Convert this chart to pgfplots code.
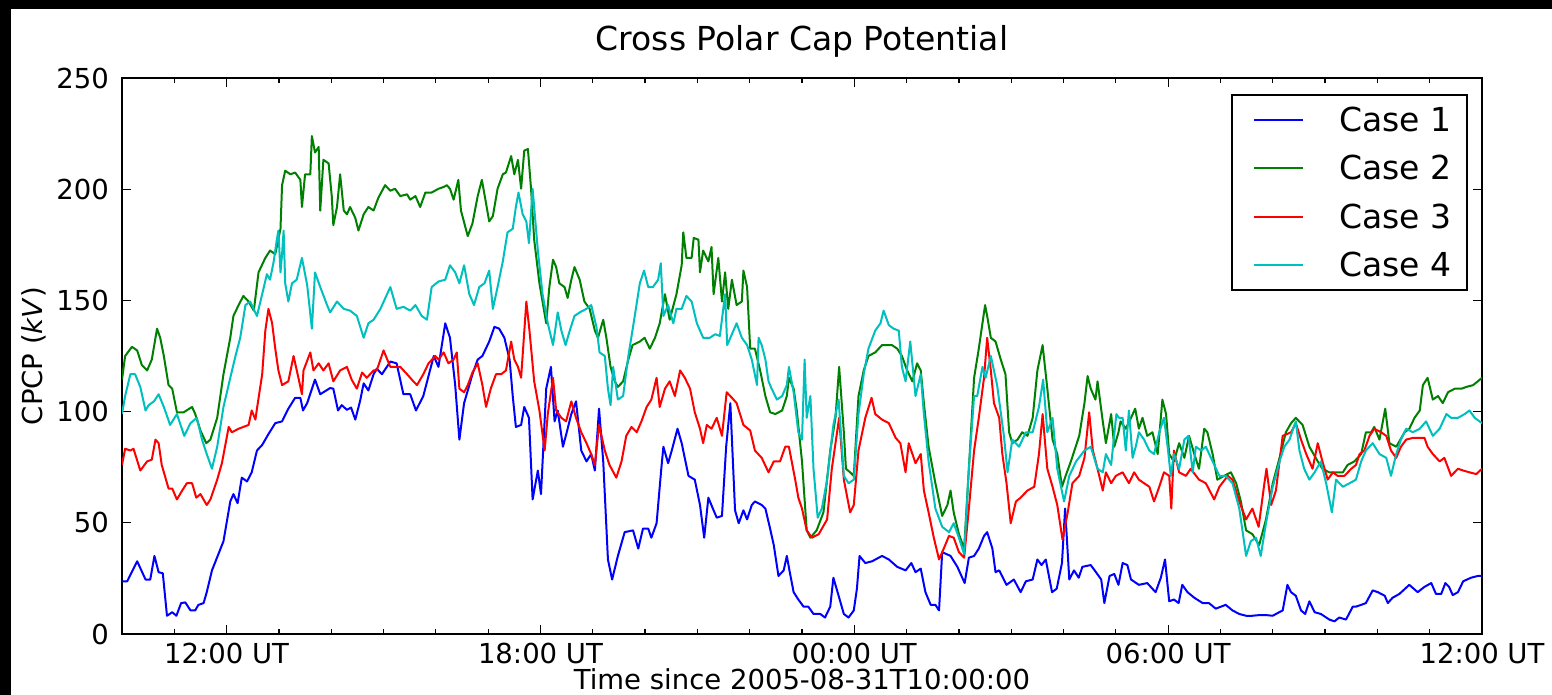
\documentclass[border=0pt]{standalone}
\usepackage{fontspec}
\setmainfont{DejaVu Sans}
\usepackage{pgfplots}
\pgfplotsset{compat=1.18}
\definecolor{mplb}{rgb}{0,0,1}
\definecolor{mplg}{rgb}{0,0.5,0}
\definecolor{mplr}{rgb}{1,0,0}
\definecolor{mplc}{rgb}{0,0.75,0.75}
\begin{document}
\begin{tikzpicture}
\fill[black] (0pt,0pt) rectangle (1552pt,695pt);
\fill[white] (11pt,0pt) rectangle (1552pt,686pt);
\begin{axis}[
  at={(122pt,61pt)}, anchor=south west,
  scale only axis, width=1360pt, height=556pt,
  xmin=10, xmax=36, ymin=0, ymax=250,
  xtick={12,18,24,30,36},
  xticklabels={12:00 UT,18:00 UT,00:00 UT,06:00 UT,12:00 UT},
  minor xtick={10,11,...,36},
  ytick={0,50,100,150,200,250},
  /pgf/number format/assume math mode=true,
  tick align=inside,
  major tick length=9pt, minor tick length=4.6pt,
  every tick/.style={black, line width=1.2pt},
  axis line style={black, line width=2pt},
  tick label style={font=\fontsize{27.5}{33}\selectfont},
  xticklabel style={inner sep=0pt, yshift=-9pt},
  yticklabel style={inner sep=0pt, xshift=-13pt},
  title={Cross Polar Cap Potential},
  title style={at={(axis description cs:0.5,1.0378)}, anchor=base, inner sep=0pt, font=\fontsize{33}{40}\selectfont},
  xlabel={Time since 2005-08-31T10:00:00},
  xlabel style={at={(axis description cs:0.5,-0.1007)}, anchor=base, inner sep=0pt, font=\fontsize{27.5}{33}\selectfont},
  ylabel={CPCP (\textit{kV})},
  ylabel style={at={(axis description cs:-0.0581,0.5)}, anchor=base, inner sep=0pt, rotate=0, font=\fontsize{27.5}{33}\selectfont},
  legend style={at={(0.9894,0.9712)}, anchor=north east, draw=black, line width=2pt, fill=white,
    inner xsep=15pt, inner ysep=12pt, row sep=22.3pt, font=\fontsize{33}{40}\selectfont,
    nodes={inner sep=0pt}, /tikz/every odd column/.append style={column sep=35pt}},
  legend cell align=left,
  legend image code/.code={\path[draw=none] (0pt,0pt) -- (56pt,0pt); \draw[#1] (7pt,0pt)--(56pt,0pt);},
  every axis plot/.append style={line width=2pt, line join=round},
]
\addplot[mplb] coordinates {
(10.00,23.7)(10.10,23.7)(10.29,32.7)(10.45,24.5)(10.54,24.5)(10.62,35.1)(10.70,27.8)(10.78,27.3)(10.86,8.2)(10.96,9.8)(11.04,8.2)(11.13,13.9)(11.21,14.2)(11.31,10.6)(11.40,10.6)(11.46,13.1)(11.56,13.9)(11.62,18.8)(11.72,28.6)(11.94,41.7)(12.07,59.6)(12.13,62.9)(12.21,58.8)(12.29,70.3)(12.39,68.6)(12.48,72.7)(12.58,82.5)(12.68,85.0)(12.80,89.9)(12.93,94.8)(13.06,95.6)(13.18,101.3)(13.31,106.2)(13.41,106.2)(13.46,100.5)(13.54,103.8)(13.69,114.4)(13.79,107.8)(13.98,110.6)(14.04,110.3)(14.13,100.5)(14.20,102.9)(14.30,100.8)(14.38,101.8)(14.46,96.4)(14.55,104.6)(14.62,112.7)(14.71,109.5)(14.81,116.8)(14.87,119.3)(14.97,116.8)(15.13,122.5)(15.25,121.7)(15.38,107.8)(15.51,107.8)(15.62,100.5)(15.76,107.0)(15.96,125.0)(16.05,120.1)(16.18,139.7)(16.27,133.2)(16.37,111.9)(16.45,87.4)
(16.54,103.8)(16.64,111.9)(16.70,116.8)(16.80,123.4)(16.89,125.0)(17.02,131.5)(17.12,138.1)(17.21,137.3)(17.31,133.2)(17.41,123.4)(17.47,107.0)(17.53,93.1)(17.63,94.0)(17.69,102.1)(17.78,97.2)(17.85,60.5)(17.95,73.5)(18.01,62.9)(18.11,110.3)(18.20,120.1)(18.27,95.6)(18.33,100.5)(18.43,84.2)(18.52,92.3)(18.59,98.9)(18.68,104.6)(18.78,82.5)(18.88,77.6)(18.97,80.9)(19.04,73.5)(19.12,101.3)(19.20,77.6)(19.29,33.5)(19.37,24.5)(19.48,35.1)(19.61,45.8)(19.77,46.6)(19.87,38.4)(19.96,47.4)(20.06,47.4)(20.12,43.3)(20.22,49.8)(20.31,74.3)(20.35,84.2)(20.44,76.8)(20.51,82.5)(20.62,92.3)(20.70,85.8)(20.83,71.1)(20.95,69.4)(21.05,58.0)(21.13,43.3)(21.21,61.3)(21.31,55.6)(21.37,52.3)(21.47,53.1)(21.55,84.2)(21.63,103.8)(21.72,55.6)(21.79,49.8)(21.88,55.6)(21.95,51.5)(22.04,58.0)(22.10,59.6)(22.23,58.0)(22.30,56.4)(22.39,47.4)(22.46,40.0)(22.55,26.1)(22.65,28.6)(22.71,35.1)(22.76,28.6)
(22.84,18.8)(22.93,15.5)(23.03,12.3)(23.12,12.3)(23.22,9.0)(23.35,9.0)(23.44,7.4)(23.54,12.3)(23.60,25.3)(23.70,17.2)(23.80,9.0)(23.89,7.4)(23.99,10.6)(24.05,20.4)(24.10,35.1)(24.21,31.9)(24.34,32.7)(24.53,35.1)(24.66,33.5)(24.82,30.2)(24.98,28.6)(25.09,31.9)(25.17,27.8)(25.27,29.4)(25.36,18.8)(25.46,13.1)(25.55,13.1)(25.62,10.6)(25.68,36.8)(25.84,35.1)(25.97,30.2)(26.11,22.9)(26.19,34.3)(26.29,35.1)(26.38,38.4)(26.48,44.1)(26.54,45.8)(26.64,38.4)(26.70,27.8)(26.77,28.6)(26.91,22.1)(27.05,24.5)(27.18,18.8)(27.28,23.7)(27.41,24.5)(27.50,33.5)(27.58,31.0)(27.66,33.5)(27.78,18.8)(27.87,20.4)(27.97,31.9)(28.03,56.4)(28.11,24.5)(28.20,28.6)(28.29,25.3)(28.36,30.2)(28.52,31.0)(28.62,27.8)(28.72,24.5)(28.78,13.9)(28.88,26.1)(28.97,27.0)(29.05,22.1)
(29.13,31.9)(29.22,31.0)(29.29,24.5)(29.44,22.1)(29.60,22.9)(29.76,18.8)(29.86,25.3)(29.94,33.5)(30.02,14.7)(30.11,15.5)(30.20,13.9)(30.27,22.1)(30.37,18.8)(30.50,16.3)(30.66,13.9)(30.78,13.9)(30.91,11.4)(31.01,12.3)(31.10,13.1)(31.23,10.6)(31.36,9.0)(31.49,8.2)(31.61,8.2)(31.74,8.5)(31.87,8.5)(32.00,8.2)(32.06,9.0)(32.19,10.6)(32.28,22.1)(32.35,18.8)(32.44,17.2)(32.54,10.6)(32.62,9.0)(32.70,14.7)(32.80,9.8)(32.92,9.0)(33.08,6.5)(33.18,5.7)(33.27,7.4)(33.40,6.5)(33.53,12.3)(33.59,12.3)(33.69,13.1)(33.78,13.9)(33.91,19.6)(34.01,18.8)(34.14,17.2)(34.20,13.9)(34.29,16.3)(34.42,18.0)(34.61,22.1)(34.77,18.8)(34.90,21.2)(35.03,22.9)(35.12,18.0)(35.22,18.0)(35.30,22.9)(35.37,21.2)(35.44,17.5)(35.54,18.8)(35.64,23.7)(35.79,25.3)(35.92,26.1)(36.00,26.1)
};
\addlegendentry{Case 1}
\addplot[mplg] coordinates {
(10.00,114.4)(10.06,125.0)(10.19,129.1)(10.29,127.5)(10.38,120.9)(10.48,118.5)(10.57,123.4)(10.67,137.3)(10.73,133.2)(10.80,125.0)(10.89,111.9)(10.96,110.3)(11.05,99.7)(11.18,99.7)(11.34,102.1)(11.40,98.9)(11.50,91.5)(11.61,85.8)(11.69,87.4)(11.82,97.2)(11.94,116.8)(12.07,133.2)(12.13,143.0)(12.23,147.9)(12.32,152.0)(12.42,149.5)(12.52,145.4)(12.61,162.6)(12.74,169.1)(12.83,172.4)(12.93,170.8)(13.03,182.2)(13.06,201.8)(13.12,208.3)(13.22,206.7)(13.31,207.5)(13.41,204.2)(13.44,192.0)(13.50,206.7)(13.60,206.7)(13.63,223.9)(13.69,216.5)(13.76,219.0)(13.79,190.4)(13.85,213.2)(13.95,211.6)(14.01,196.9)(14.04,183.8)(14.11,192.0)(14.17,206.7)(14.24,190.4)(14.30,188.7)(14.36,192.0)(14.46,187.1)(14.52,181.4)(14.62,188.7)(14.71,192.0)(14.81,190.4)(14.90,196.1)(15.03,201.8)(15.13,199.3)(15.22,200.2)(15.32,196.9)(15.45,197.7)(15.51,195.3)(15.61,196.9)(15.70,192.0)(15.80,198.5)(15.92,198.5)(16.05,200.2)(16.15,201.0)(16.21,201.8)(16.27,200.2)(16.34,195.3)(16.43,204.2)
(16.48,190.4)(16.61,178.9)(16.70,184.6)(16.80,196.9)(16.88,204.2)(16.96,193.6)(17.02,185.5)(17.09,187.9)(17.18,200.2)(17.28,206.7)(17.34,207.5)(17.44,214.9)(17.50,206.7)(17.57,213.2)(17.63,200.2)(17.69,217.3)(17.76,218.1)(17.82,200.2)(17.88,177.3)(17.98,157.7)(18.11,139.7)(18.17,156.0)(18.24,168.3)(18.30,165.0)(18.36,157.7)(18.46,156.0)(18.52,151.1)(18.59,159.3)(18.65,165.0)(18.75,159.3)(18.84,149.5)(18.94,146.2)(19.04,136.4)(19.10,133.2)(19.20,141.3)(19.26,133.2)(19.34,120.1)(19.42,113.6)(19.48,111.1)(19.58,113.6)(19.68,123.4)(19.76,129.9)(19.90,131.5)(19.99,133.2)(20.09,128.3)(20.19,133.2)(20.28,139.7)(20.38,152.8)(20.47,141.3)(20.60,152.8)(20.70,165.8)(20.73,180.6)(20.79,169.1)(20.89,169.1)(20.93,178.1)(21.02,177.3)(21.05,162.6)(21.11,172.4)(21.21,167.5)(21.27,174.0)(21.31,152.8)(21.40,169.1)(21.47,149.5)(21.53,162.6)(21.59,146.2)(21.66,159.3)(21.75,147.9)(21.85,149.5)(21.88,163.4)(21.95,156.0)(22.01,128.3)(22.10,128.3)(22.20,118.5)(22.30,107.0)(22.39,99.7)(22.49,98.9)(22.62,100.5)(22.71,107.0)
(22.75,115.2)(22.84,110.3)(22.90,100.5)(23.00,77.6)(23.09,46.6)(23.16,43.3)(23.28,46.6)(23.41,54.7)(23.54,82.5)(23.64,97.2)(23.71,120.1)(23.80,90.7)(23.84,74.3)(23.92,72.7)(23.99,71.1)(24.08,107.0)(24.18,118.5)(24.27,125.0)(24.40,126.6)(24.53,129.9)(24.63,129.9)(24.72,129.9)(24.82,128.3)(24.91,125.0)(25.01,118.5)(25.11,113.6)(25.20,121.7)(25.27,118.5)(25.33,103.8)(25.42,84.2)(25.55,67.8)(25.68,53.1)(25.78,58.0)(25.84,64.5)(25.90,54.7)(26.00,44.9)(26.10,38.4)(26.19,74.3)(26.29,115.2)(26.38,128.3)(26.50,147.9)(26.54,143.0)(26.61,133.2)(26.70,131.5)(26.80,123.4)(26.89,116.8)(26.96,90.7)(27.02,85.8)(27.12,87.4)(27.21,90.7)(27.31,89.1)(27.41,97.2)(27.50,118.5)(27.60,129.9)(27.69,110.3)(27.79,87.4)(27.88,80.9)(27.97,66.2)(28.04,71.1)(28.14,77.6)(28.30,89.1)(28.40,103.8)(28.46,116.0)(28.52,110.3)(28.61,105.4)(28.65,113.6)(28.75,95.6)(28.81,85.8)(28.91,98.9)(28.97,84.2)(29.05,90.7)
(29.09,95.6)(29.19,92.3)(29.29,97.2)(29.37,101.3)(29.44,92.3)(29.51,97.2)(29.60,89.1)(29.70,90.7)(29.80,80.9)(29.89,105.4)(29.96,98.9)(30.02,80.9)(30.11,77.6)(30.21,85.8)(30.31,79.2)(30.40,89.1)(30.50,80.9)(30.59,74.3)(30.69,92.3)(30.75,90.7)(30.85,80.9)(30.94,69.4)(31.07,71.1)(31.20,72.7)(31.30,67.8)(31.39,59.6)(31.49,46.6)(31.61,44.9)(31.74,40.0)(31.87,51.5)(32.00,67.8)(32.13,79.2)(32.25,90.7)(32.35,94.8)(32.44,97.2)(32.57,94.0)(32.70,84.2)(32.86,77.6)(32.95,74.3)(33.08,72.7)(33.21,72.7)(33.34,72.7)(33.43,76.0)(33.56,77.6)(33.69,80.9)(33.78,90.7)(33.88,90.7)(33.94,93.1)(34.04,87.4)(34.15,101.3)(34.23,85.8)(34.36,84.2)(34.52,90.7)(34.61,92.3)(34.71,97.2)(34.81,100.5)(34.87,111.9)(34.96,115.2)(35.06,105.4)(35.16,107.0)(35.25,103.8)(35.35,108.7)(35.48,110.3)(35.61,110.3)(35.70,111.1)(35.83,111.9)(35.92,113.6)(36.00,115.2)
};
\addlegendentry{Case 2}
\addplot[mplr] coordinates {
(10.00,76.0)(10.06,83.3)(10.16,82.5)(10.22,83.3)(10.35,73.5)(10.48,77.6)(10.57,78.4)(10.64,87.4)(10.70,85.8)(10.76,76.0)(10.89,65.4)(10.96,65.4)(11.05,60.5)(11.15,64.5)(11.24,67.8)(11.34,67.8)(11.42,61.3)(11.50,62.9)(11.62,58.0)(11.69,60.5)(11.82,69.4)(11.91,76.8)(12.04,93.1)(12.10,90.7)(12.23,92.3)(12.32,93.1)(12.42,94.0)(12.48,100.5)(12.55,96.4)(12.58,101.3)(12.68,116.8)(12.74,136.4)(12.80,146.2)(12.87,139.7)(12.93,128.3)(12.99,118.5)(13.06,111.9)(13.18,113.6)(13.28,125.0)(13.38,114.4)(13.44,107.8)(13.47,118.5)(13.60,126.6)(13.66,118.5)(13.76,121.7)(13.85,118.5)(13.95,121.7)(14.04,113.6)(14.17,118.5)(14.30,120.1)(14.39,114.4)(14.49,110.3)(14.59,117.6)(14.68,115.2)(14.81,118.5)(14.87,118.5)(15.00,127.5)(15.13,120.1)(15.32,120.1)(15.45,116.8)(15.57,113.6)(15.64,111.9)(15.76,116.8)(15.86,121.7)(15.99,125.0)(16.05,123.4)(16.15,126.6)(16.24,121.7)(16.34,123.4)(16.40,126.6)
(16.45,110.3)(16.54,108.7)(16.61,111.9)(16.70,117.6)(16.80,121.7)(16.89,111.9)(16.96,102.1)(17.05,110.3)(17.15,116.8)(17.25,116.8)(17.34,118.5)(17.44,131.5)(17.50,123.4)(17.57,120.1)(17.63,115.2)(17.73,149.5)(17.79,136.4)(17.88,113.6)(17.98,100.5)(18.08,82.5)(18.14,98.9)(18.24,115.2)(18.30,100.5)(18.40,97.2)(18.49,95.6)(18.59,104.6)(18.68,97.2)(18.78,90.7)(18.88,85.8)(18.97,80.9)(19.04,76.0)(19.12,94.0)(19.23,82.5)(19.32,76.0)(19.45,70.3)(19.55,77.6)(19.64,89.1)(19.74,93.1)(19.84,90.7)(19.93,95.6)(20.03,102.1)(20.12,105.4)(20.22,115.2)(20.28,102.1)(20.38,110.3)(20.47,113.6)(20.57,107.0)(20.67,118.5)(20.76,115.2)(20.86,110.3)(20.95,99.7)(21.05,92.3)(21.11,85.8)(21.18,94.0)(21.27,92.3)(21.37,97.2)(21.47,89.1)(21.56,108.7)(21.66,106.2)(21.75,103.8)(21.88,94.0)(22.01,91.5)(22.10,82.5)(22.23,79.2)(22.36,72.7)(22.46,77.6)(22.58,77.6)(22.68,84.2)
(22.75,84.2)(22.87,69.4)(22.93,61.3)(23.00,56.4)(23.09,46.6)(23.19,43.3)(23.32,44.9)(23.48,51.5)(23.57,74.3)(23.71,97.2)(23.80,69.4)(23.92,54.7)(23.99,58.0)(24.08,82.5)(24.21,97.2)(24.33,106.2)(24.40,98.9)(24.53,96.4)(24.66,94.8)(24.79,88.2)(24.88,85.8)(24.98,72.7)(25.04,85.8)(25.17,76.8)(25.27,80.9)(25.33,64.5)(25.42,54.7)(25.52,43.3)(25.62,33.5)(25.71,38.4)(25.81,44.1)(25.90,43.3)(26.00,36.8)(26.10,34.3)(26.19,56.4)(26.29,82.5)(26.38,97.2)(26.48,115.2)(26.54,133.2)(26.61,118.5)(26.67,103.8)(26.77,97.2)(26.83,80.9)(26.91,67.8)(26.99,49.8)(27.09,59.6)(27.18,61.3)(27.31,64.5)(27.44,66.2)(27.53,80.9)(27.60,98.9)(27.69,74.3)(27.79,66.2)(27.88,58.0)(27.98,42.5)(28.08,54.7)(28.17,67.8)(28.30,71.1)(28.40,79.2)(28.49,99.7)(28.56,82.5)(28.65,74.3)(28.75,64.5)(28.81,72.7)(28.91,67.8)(29.00,71.1)
(29.13,72.7)(29.25,67.8)(29.35,72.7)(29.44,69.4)(29.54,67.8)(29.64,66.2)(29.73,59.6)(29.83,66.2)(29.92,72.7)(30.02,71.1)(30.06,56.4)(30.11,82.5)(30.21,72.7)(30.34,71.1)(30.43,74.3)(30.59,69.4)(30.72,67.8)(30.88,60.5)(30.98,66.2)(31.14,71.1)(31.23,69.4)(31.36,59.6)(31.49,51.5)(31.61,56.4)(31.73,48.2)(31.84,67.8)(31.88,74.3)(31.97,58.0)(32.06,64.5)(32.19,89.1)(32.35,90.7)(32.44,94.8)(32.54,87.4)(32.64,80.9)(32.76,74.3)(32.86,85.8)(32.95,77.6)(33.05,69.4)(33.15,72.7)(33.24,71.1)(33.37,71.1)(33.50,74.3)(33.59,76.0)(33.66,80.9)(33.75,82.5)(33.85,89.1)(33.94,92.3)(34.07,90.7)(34.17,89.1)(34.26,82.5)(34.36,79.2)(34.45,84.2)(34.55,87.4)(34.68,88.2)(34.81,88.2)(34.90,88.2)(34.96,84.2)(35.06,80.9)(35.19,77.6)(35.28,79.2)(35.41,71.1)(35.54,74.3)(35.64,73.5)(35.76,72.7)(35.89,71.9)(36.00,74.3)
};
\addlegendentry{Case 3}
\addplot[mplc] coordinates {
(10.00,98.9)(10.06,107.0)(10.16,116.8)(10.25,116.8)(10.35,111.1)(10.45,100.5)(10.51,102.9)(10.61,104.6)(10.70,107.8)(10.80,102.1)(10.92,94.0)(11.05,98.9)(11.19,89.1)(11.31,94.8)(11.43,97.2)(11.53,87.4)(11.62,80.9)(11.72,74.3)(11.82,84.2)(11.94,102.1)(12.07,115.2)(12.17,125.0)(12.26,133.2)(12.36,147.9)(12.45,149.5)(12.58,143.0)(12.68,152.8)(12.77,161.8)(12.83,159.3)(12.90,167.5)(12.96,177.3)(12.99,181.4)(13.03,162.6)(13.06,170.8)(13.09,181.4)(13.12,157.7)(13.18,149.5)(13.25,157.7)(13.34,159.3)(13.44,169.1)(13.54,156.9)(13.63,137.3)(13.69,162.6)(13.79,156.0)(13.92,147.9)(13.98,144.6)(14.11,149.5)(14.24,146.2)(14.36,145.4)(14.49,143.0)(14.62,133.2)(14.71,139.7)(14.81,141.3)(14.94,146.2)(15.13,156.0)(15.25,146.2)(15.38,147.1)(15.51,145.4)(15.61,147.9)(15.73,143.0)(15.83,141.3)(15.92,156.0)(16.05,158.5)(16.18,159.3)(16.27,165.8)(16.37,162.6)
(16.45,157.7)(16.54,165.8)(16.64,152.8)(16.73,147.9)(16.83,156.0)(16.93,157.7)(17.02,163.4)(17.09,146.2)(17.18,156.0)(17.28,167.5)(17.37,180.6)(17.47,182.2)(17.53,192.0)(17.58,198.5)(17.66,188.7)(17.73,185.5)(17.78,175.7)(17.85,200.2)(17.95,172.4)(18.04,152.8)(18.14,139.7)(18.24,129.9)(18.33,144.6)(18.40,136.4)(18.48,129.9)(18.56,136.4)(18.65,143.0)(18.75,144.6)(18.88,146.2)(18.97,147.9)(19.07,138.1)(19.13,126.6)(19.23,125.0)(19.29,110.3)(19.34,102.9)(19.39,120.1)(19.48,105.4)(19.58,107.0)(19.68,125.0)(19.77,138.1)(19.90,157.7)(19.98,163.4)(20.06,156.0)(20.15,156.0)(20.25,159.3)(20.30,166.7)(20.35,143.0)(20.44,147.9)(20.54,139.7)(20.60,146.2)(20.70,146.2)(20.79,152.0)(20.89,149.5)(20.99,139.7)(21.11,133.2)(21.24,133.2)(21.34,134.8)(21.43,134.0)(21.53,152.8)(21.57,129.9)(21.66,134.8)(21.75,139.7)(21.85,133.2)(21.95,129.9)(22.04,123.4)(22.14,111.9)(22.17,133.2)(22.23,129.9)(22.30,123.4)(22.36,113.6)(22.42,110.3)(22.52,105.4)(22.62,107.0)(22.71,111.9)
(22.75,120.1)(22.84,108.7)(22.93,90.7)(23.00,87.4)(23.05,123.4)(23.09,97.2)(23.16,107.0)(23.22,74.3)(23.30,52.3)(23.38,56.4)(23.48,69.4)(23.60,94.0)(23.70,105.4)(23.80,71.1)(23.89,67.8)(23.99,69.4)(24.08,98.9)(24.18,116.8)(24.27,128.3)(24.40,136.4)(24.50,139.7)(24.56,145.4)(24.66,138.9)(24.75,137.3)(24.85,136.4)(24.91,120.1)(24.98,113.6)(25.07,131.5)(25.17,107.0)(25.27,116.8)(25.33,98.9)(25.42,77.6)(25.55,56.4)(25.68,48.2)(25.81,45.8)(25.90,49.8)(26.00,43.3)(26.10,35.9)(26.19,74.3)(26.29,107.0)(26.35,107.0)(26.45,120.1)(26.51,115.2)(26.61,125.0)(26.73,111.9)(26.86,89.1)(26.93,72.7)(27.02,87.4)(27.15,84.2)(27.28,90.7)(27.41,90.7)(27.53,102.1)(27.61,114.4)(27.69,90.7)(27.79,97.2)(27.88,74.3)(28.01,59.6)(28.11,71.1)(28.24,77.6)(28.40,82.5)(28.52,84.2)(28.65,74.3)(28.75,72.7)(28.81,80.9)(28.91,76.0)(29.01,98.9)
(29.06,97.2)(29.13,97.2)(29.19,82.5)(29.25,100.5)(29.32,79.2)(29.38,84.2)(29.44,90.7)(29.54,87.4)(29.64,82.5)(29.73,80.9)(29.83,90.7)(29.92,97.2)(29.99,84.2)(30.05,71.1)(30.11,80.9)(30.21,74.3)(30.31,87.4)(30.39,89.1)(30.47,72.7)(30.53,84.2)(30.63,82.5)(30.72,84.2)(30.85,77.6)(30.98,71.1)(31.10,71.1)(31.23,67.8)(31.36,56.4)(31.49,35.1)(31.58,41.7)(31.68,43.3)(31.77,35.1)(31.87,49.8)(32.00,66.2)(32.13,77.6)(32.22,84.2)(32.32,87.4)(32.44,95.6)(32.51,82.5)(32.60,74.3)(32.70,69.4)(32.80,72.7)(32.92,77.6)(33.02,67.8)(33.13,54.7)(33.21,69.4)(33.34,66.2)(33.47,67.8)(33.59,69.4)(33.69,77.6)(33.78,82.5)(33.91,85.8)(34.04,80.9)(34.17,79.2)(34.26,71.1)(34.36,80.9)(34.45,87.4)(34.55,92.3)(34.68,90.7)(34.81,92.3)(34.93,95.6)(35.06,89.1)(35.19,92.3)(35.32,98.9)(35.41,97.2)(35.54,97.2)(35.67,98.9)(35.76,100.5)(35.86,97.2)(36.00,94.8)
};
\addlegendentry{Case 4}
\end{axis}
\end{tikzpicture}
\end{document}
